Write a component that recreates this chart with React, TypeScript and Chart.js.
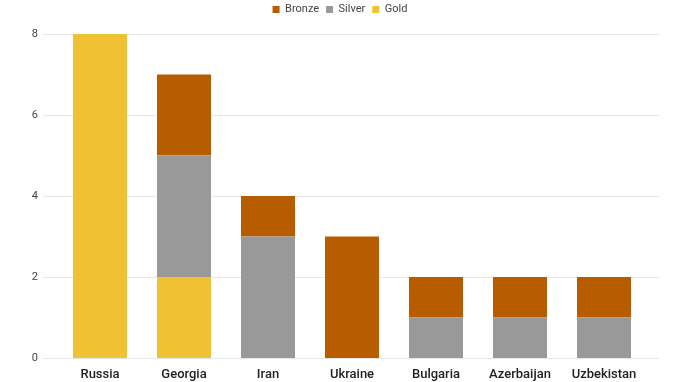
import React, { useEffect, useRef } from "react";
import { Chart, registerables } from "chart.js";

Chart.register(...registerables);

const countries = ["Russia", "Georgia", "Iran", "Ukraine", "Bulgaria", "Azerbaijan", "Uzbekistan"];
const gold = [8, 2, 0, 0, 0, 0, 0];
const silver = [0, 3, 3, 0, 1, 1, 1];
const bronze = [0, 2, 1, 3, 1, 1, 1];
const yTicks = [0, 2, 4, 6, 8];

const FONT = "Roboto, 'Liberation Sans', Arial, sans-serif";

export default function App() {
  const ref = useRef<HTMLCanvasElement | null>(null);

  useEffect(() => {
    document.body.style.margin = "0";
    const canvas = ref.current;
    if (!canvas) return;

    const gridPlugin = {
      id: "customGrid",
      beforeInit(chart: any) {
        const lg = chart.legend;
        if (lg) {
          const orig = lg.fit;
          lg.fit = function () {
            orig.call(this);
            this.height = 34;
          };
        }
      },
      afterUpdate(chart: any) {
        const lg = chart.legend;
        if (lg) {
          lg.top = -3;
        }
      },
      beforeDatasetsDraw(chart: any) {
        const y = chart.scales.y;
        const ctx = chart.ctx;
        ctx.save();
        ctx.strokeStyle = "#e6e6e6";
        ctx.lineWidth = 1;
        yTicks.forEach((v) => {
          const py = Math.round(y.getPixelForValue(v)) + 0.5;
          ctx.beginPath();
          ctx.moveTo(43, py);
          ctx.lineTo(659, py);
          ctx.stroke();
        });
        ctx.restore();
      },
    };

    const chart = new Chart(canvas, {
      type: "bar",
      data: {
        labels: countries,
        datasets: [
          { label: "Gold", data: gold, backgroundColor: "#F0C233" },
          { label: "Silver", data: silver, backgroundColor: "#999999" },
          { label: "Bronze", data: bronze, backgroundColor: "#B85C00" },
        ],
      },
      options: {
        animation: false,
        responsive: false,
        maintainAspectRatio: false,
        layout: { padding: 0 },
        datasets: {
          bar: { categoryPercentage: 1, barPercentage: 0.643 },
        } as any,
        plugins: {
          tooltip: { enabled: false },
          legend: {
            display: true,
            position: "top",
            reverse: true,
            labels: {
              boxWidth: 7,
              boxHeight: 7,
              padding: 7,
              color: "#444",
              font: { family: FONT, size: 11 },
            },
          },
        },
        scales: {
          x: {
            stacked: true,
            grid: { display: false, drawTicks: false },
            border: { display: true, color: "#cccccc" },
            ticks: {
              color: "#222",
              padding: 9,
              font: { family: FONT, size: 13, weight: 500 as any },
            },
            afterFit(scale: any) {
              scale.height = 24;
            },
          },
          y: {
            stacked: true,
            min: 0,
            max: 8,
            afterBuildTicks(scale: any) {
              scale.ticks = yTicks.map((v) => ({ value: v }));
            },
            grid: { display: false, drawTicks: false },
            border: { display: false },
            ticks: {
              color: "#444",
              padding: 20,
              font: { family: FONT, size: 11 },
            },
            afterFit(scale: any) {
              scale.width = 58;
              scale.paddingTop = 0;
              scale.paddingBottom = 0;
            },
          },
          yr: {
            position: "right",
            display: true,
            grid: { display: false, drawTicks: false },
            border: { display: false },
            ticks: { display: false },
            afterFit(scale: any) {
              scale.width = 34;
              scale.paddingTop = 0;
              scale.paddingBottom = 0;
            },
          },
        },
      },
      plugins: [gridPlugin],
    });

    return () => chart.destroy();
  }, []);

  return (
    <div style={{ width: 680, height: 382, position: "relative" }}>
      <canvas ref={ref} width={680} height={382} style={{ width: 680, height: 382 }} />
    </div>
  );
}
